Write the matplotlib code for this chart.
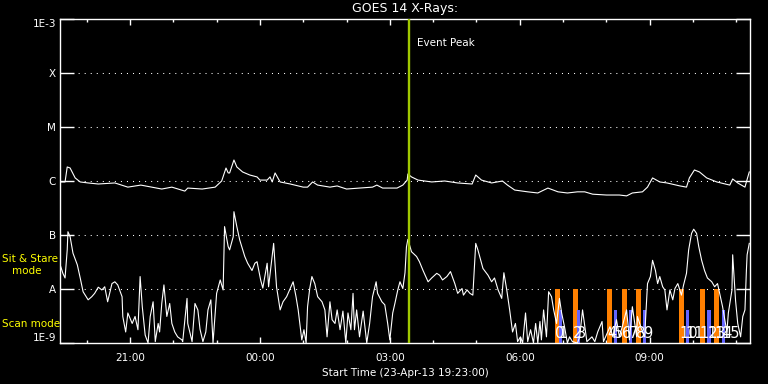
import matplotlib
matplotlib.use("Agg")
import matplotlib.pyplot as plt
from matplotlib.ticker import FixedLocator, NullLocator

plt.rcParams['lines.scale_dashes'] = False
plt.rcParams['font.family'] = ['DejaVu Sans']

title = "GOES 14 X-Rays:"
start_label = "Start Time (23-Apr-13 19:23:00)"

# time in minutes after start (19:23), flux in W/m^2
long_t = [1, 7, 10, 14, 21, 28, 39, 53, 76, 94,
          112, 141, 155, 173, 177, 197, 215, 224, 230, 233,
          235, 241, 245, 253, 263, 273, 277, 287, 291, 294,
          298, 305, 319, 337, 343, 350, 357, 374, 384, 397,
          415, 433, 439, 447, 467, 475, 481, 482, 487, 496,
          515, 533, 551, 571, 576, 584, 598, 613, 620, 630,
          648, 662, 676, 690, 703, 717, 727, 738, 757, 775,
          785, 793, 807, 814, 821, 831, 841, 859, 868, 872,
          879, 886, 896, 910, 928, 932, 939, 949, 953, 955]
long_flux = [9.6e-7, 9.6e-7, 1.82e-6, 1.74e-6, 1.14e-6, 9.6e-7, 9.2e-7, 8.8e-7, 9.2e-7, 7.7e-7,
             8.4e-7, 7.1e-7, 7.7e-7, 6.5e-7, 7.4e-7, 7.1e-7, 7.7e-7, 1.0e-6, 1.74e-6, 1.41e-6,
             1.41e-6, 2.45e-6, 1.82e-6, 1.47e-6, 1.29e-6, 1.19e-6, 1.04e-6, 1.04e-6, 1.19e-6, 9.6e-7,
             1.41e-6, 9.6e-7, 8.8e-7, 7.7e-7, 7.7e-7, 9.6e-7, 8.4e-7, 7.7e-7, 8.1e-7, 7.1e-7,
             7.4e-7, 7.7e-7, 8.4e-7, 7.4e-7, 7.4e-7, 8.4e-7, 1.04e-6, 1.35e-6, 1.19e-6, 1.04e-6,
             9.6e-7, 1.0e-6, 9.2e-7, 8.8e-7, 1.29e-6, 1.04e-6, 9.2e-7, 1.0e-6, 8.4e-7, 6.8e-7,
             6.3e-7, 6.0e-7, 7.4e-7, 6.3e-7, 6.0e-7, 6.3e-7, 6.3e-7, 5.7e-7, 5.5e-7, 5.5e-7,
             5.3e-7, 6.0e-7, 6.3e-7, 7.7e-7, 1.14e-6, 9.6e-7, 9.2e-7, 8.1e-7, 7.7e-7, 1.14e-6,
             1.60e-6, 1.47e-6, 1.14e-6, 9.6e-7, 8.4e-7, 1.09e-6, 9.2e-7, 7.7e-7, 1.19e-6, 1.47e-6]

short_t = [1, 4, 7, 10, 11, 14, 18, 24, 28, 32,
           39, 44, 48, 53, 58, 62, 66, 72, 76, 80,
           86, 87, 91, 94, 100, 104, 108, 111, 114, 118,
           122, 125, 129, 132, 136, 138, 141, 144, 148, 152,
           155, 159, 163, 169, 170, 176, 177, 183, 187, 191,
           194, 198, 202, 205, 209, 212, 217, 222, 226, 228,
           233, 235, 240, 241, 245, 249, 256, 260, 266, 270,
           273, 278, 281, 287, 289, 295, 296, 300, 305, 309,
           314, 318, 323, 327, 330, 335, 338, 341, 343, 346,
           349, 353, 357, 363, 367, 370, 374, 377, 381, 384,
           388, 392, 396, 399, 403, 406, 408, 411, 415, 420,
           425, 429, 433, 438, 440, 446, 450, 454, 457, 461,
           464, 468, 471, 475, 478, 480, 482, 487, 494, 498,
           503, 510, 515, 522, 526, 530, 536, 541, 547, 551,
           557, 559, 564, 568, 572, 576, 579, 586, 593, 598,
           602, 607, 612, 615, 619, 623, 627, 631, 634, 638,
           641, 645, 648, 652, 656, 659, 662, 665, 667, 670,
           674, 677, 681, 684, 688, 692, 695, 699, 703, 706,
           710, 717, 720, 724, 730, 737, 741, 745, 751, 753,
           757, 762, 766, 771, 775, 779, 785, 789, 793, 799,
           800, 806, 810, 814, 818, 821, 825, 828, 831, 835,
           838, 841, 845, 849, 852, 856, 861, 864, 868, 871,
           875, 878, 882, 885, 889, 893, 897, 903, 907, 911,
           915, 918, 924, 926, 931, 932, 936, 939, 943, 946,
           949, 951, 952, 955]
short_flux = [2.6e-8, 1.95e-8, 1.6e-8, 5.3e-8, 1.15e-7, 9.3e-8, 4.6e-8, 2.8e-8, 1.6e-8, 8.9e-9,
              6.3e-9, 7.2e-9, 8.3e-9, 1.08e-8, 9.6e-9, 1.1e-8, 5.8e-9, 1.26e-8, 1.36e-8, 1.19e-8,
              7.2e-9, 3.1e-9, 1.6e-9, 3.6e-9, 2.3e-9, 3.1e-9, 1.76e-9, 1.7e-8, 4.7e-9, 1.4e-9,
              1.0e-9, 3.1e-9, 5.8e-9, 1.06e-9, 2.3e-9, 1.6e-9, 5.4e-9, 1.19e-8, 3.1e-9, 5.4e-9,
              2.3e-9, 1.6e-9, 1.3e-9, 1.14e-9, 1.06e-9, 6.7e-9, 2.3e-9, 1.06e-9, 5.4e-9, 4.1e-9,
              1.8e-9, 1.06e-9, 1.6e-9, 4.1e-9, 6.3e-9, 1.0e-9, 8.3e-9, 1.47e-8, 9.6e-9, 1.43e-7,
              6.1e-8, 5.3e-8, 9.3e-8, 2.7e-7, 1.43e-7, 8.1e-8, 4.0e-8, 3.0e-8, 2.2e-8, 3.0e-8,
              3.2e-8, 1.47e-8, 1.04e-8, 3.0e-8, 1.1e-8, 5.3e-8, 7.0e-8, 1.1e-8, 4.1e-9, 5.8e-9,
              7.2e-9, 9.6e-9, 1.36e-8, 7.2e-9, 4.1e-9, 1.14e-9, 1.76e-9, 1.0e-9, 4.7e-9, 1.02e-8,
              1.7e-8, 1.26e-8, 7.2e-9, 5.8e-9, 4.1e-9, 1.3e-9, 5.8e-9, 2.7e-9, 2.3e-9, 4.1e-9,
              1.76e-9, 3.9e-9, 1.0e-9, 3.6e-9, 1.76e-9, 8.3e-9, 1.76e-9, 4.1e-9, 1.3e-9, 3.9e-9,
              1.0e-9, 2.3e-9, 7.2e-9, 1.36e-8, 8.3e-9, 5.8e-9, 5.1e-9, 2.3e-9, 1.14e-9, 3.6e-9,
              5.4e-9, 9.6e-9, 1.36e-8, 1.02e-8, 2.0e-8, 6.0e-8, 8.3e-8, 4.9e-8, 4.0e-8, 3.2e-8,
              2.2e-8, 1.36e-8, 1.6e-8, 1.95e-8, 1.8e-8, 1.47e-8, 1.7e-8, 2.1e-8, 1.26e-8, 8.3e-9,
              1.02e-8, 7.7e-9, 9.6e-9, 8.3e-9, 7.7e-9, 7.0e-8, 5.3e-8, 2.4e-8, 1.8e-8, 1.36e-8,
              1.6e-8, 9.6e-9, 6.7e-9, 2.0e-8, 9.6e-9, 4.1e-9, 1.6e-9, 2.3e-9, 1.06e-9, 1.3e-9,
              1.0e-9, 3.6e-9, 1.06e-9, 1.76e-9, 1.0e-9, 2.3e-9, 1.0e-9, 2.5e-9, 1.14e-9, 4.1e-9,
              1.3e-9, 8.9e-9, 7.2e-9, 4.1e-9, 2.3e-9, 6.7e-9, 3.6e-9, 2.0e-9, 1.0e-9, 1.3e-9,
              1.06e-9, 1.0e-9, 1.3e-9, 4.1e-9, 1.06e-9, 1.3e-9, 1.06e-9, 1.6e-9, 2.5e-9, 1.06e-9,
              1.4e-9, 2.0e-9, 1.3e-9, 2.7e-9, 1.3e-9, 2.0e-9, 4.1e-9, 1.14e-9, 4.7e-9, 1.3e-9,
              3.1e-9, 1.76e-9, 1.3e-9, 1.26e-8, 1.7e-8, 3.4e-8, 2.2e-8, 1.26e-8, 1.7e-8, 1.1e-8,
              9.6e-9, 4.1e-9, 9.6e-9, 6.3e-9, 1.02e-8, 1.26e-8, 7.7e-9, 1.19e-8, 1.95e-8, 5.3e-8,
              1.07e-7, 1.28e-7, 1.07e-7, 6.1e-8, 3.4e-8, 2.2e-8, 1.6e-8, 1.36e-8, 1.1e-8, 1.26e-8,
              7.2e-9, 4.7e-9, 1.6e-9, 3.6e-9, 9.6e-9, 4.3e-8, 6.1e-9, 2.3e-9, 1.3e-9, 3.1e-9,
              4.1e-9, 2.2e-8, 4.3e-8, 7.0e-8]

peak_t = 483
peak_label = "Event Peak"

sitstare_t = [689, 714, 762, 782, 802, 861, 890, 910]
sitstare_top = [1e-8] * 8
scan_t = [693, 718, 770, 790, 810, 869, 899, 919]
scan_top = [4.1e-9] * 8
obs_labels = [str(i) for i in range(16)]

class_ticks = [1e-9, 1e-8, 1e-7, 1e-6, 1e-5, 1e-4, 1e-3]
class_labels = ['1E-9', 'A', 'B', 'C', 'M', 'X', '1E-3']
hour_ticks = [97, 277, 457, 637, 817]
hour_labels = ['21:00', '00:00', '03:00', '06:00', '09:00']
minor_ticks = [37, 97, 157, 217, 277, 337, 397, 457, 517, 577, 637, 697, 757, 817, 877, 937]

assert len(long_t) == len(long_flux)
assert len(short_t) == len(short_flux)

W, H = 768, 384
fig = plt.figure(figsize=(W / 100, H / 100), dpi=100, facecolor='black')
ax = fig.add_axes([60 / W, 41 / H, 690 / W, 324 / H])
ax.set_facecolor('black')
ax.set_yscale('log')
ax.set_ylim(1e-9, 1e-3)
ax.set_xlim(0, 956)

bottom = 1e-9
ax.bar(sitstare_t, [v - bottom for v in sitstare_top], bottom=bottom, width=6.9,
       color='#ff8000', zorder=2, linewidth=0)
ax.bar(scan_t, [v - bottom for v in scan_top], bottom=bottom, width=4.6,
       color='#6464ff', zorder=2, linewidth=0)

for lvl in class_ticks[1:-1]:
    ax.axhline(lvl, color='white', lw=0.75, linestyle=(0, (0.75, 3.6)), zorder=1)

ax.plot(long_t, long_flux, color='white', lw=0.8, zorder=3)
ax.plot(short_t, short_flux, color='white', lw=0.8, zorder=3)

ax.axvline(peak_t, color='#a0c800', lw=1.7, zorder=4)
ax.annotate(peak_label, xy=(peak_t, 0.926), xycoords=('data', 'axes fraction'),
            xytext=(6, 0), textcoords='offset points', va='center', ha='left',
            color='white', fontsize=7.5)

pos = []
for a, b in zip(sitstare_t, scan_t):
    pos.append(a - 3.45)
    pos.append(b - 2.3)
for p, lab in zip(pos, obs_labels):
    ax.text(p, 1.24e-9, lab, ha='left', va='baseline', color='white', fontsize=10.5, zorder=5)

ax.yaxis.set_major_locator(FixedLocator(class_ticks))
ax.yaxis.set_minor_locator(NullLocator())
ax.set_yticklabels(class_labels)
ax.xaxis.set_major_locator(FixedLocator(hour_ticks))
ax.xaxis.set_minor_locator(FixedLocator(minor_ticks))
ax.set_xticklabels(hour_labels)

ax.tick_params(axis='y', which='major', direction='in', length=10, width=1.0,
               color='white', left=True, right=True, labelcolor='white',
               labelsize=7.5, pad=3)
ax.tick_params(axis='x', which='major', direction='in', length=4.5, width=1.0,
               color='white', top=True, bottom=True, labelcolor='white',
               labelsize=7.5, pad=7)
ax.tick_params(axis='x', which='minor', direction='in', length=2.2, width=1.0,
               color='white', top=True, bottom=True)

labs = ax.get_yticklabels()
labs[0].set_verticalalignment('bottom')
labs[-1].set_verticalalignment('top')

for s in ax.spines.values():
    s.set_color('white')
    s.set_linewidth(1.0)

ax.set_title(title, color='white', fontsize=9, pad=5)
ax.set_xlabel(start_label, color='white', fontsize=7.5, labelpad=4)

fig.text(2 / W, 1 - 259 / H, 'Sit & Stare', color='yellow', fontsize=7.5, va='center', ha='left')
fig.text(12 / W, 1 - 271 / H, 'mode', color='yellow', fontsize=7.5, va='center', ha='left')
fig.text(2 / W, 1 - 324 / H, 'Scan mode', color='yellow', fontsize=7.5, va='center', ha='left')

fig.savefig('out.png', dpi=100, facecolor='black')
